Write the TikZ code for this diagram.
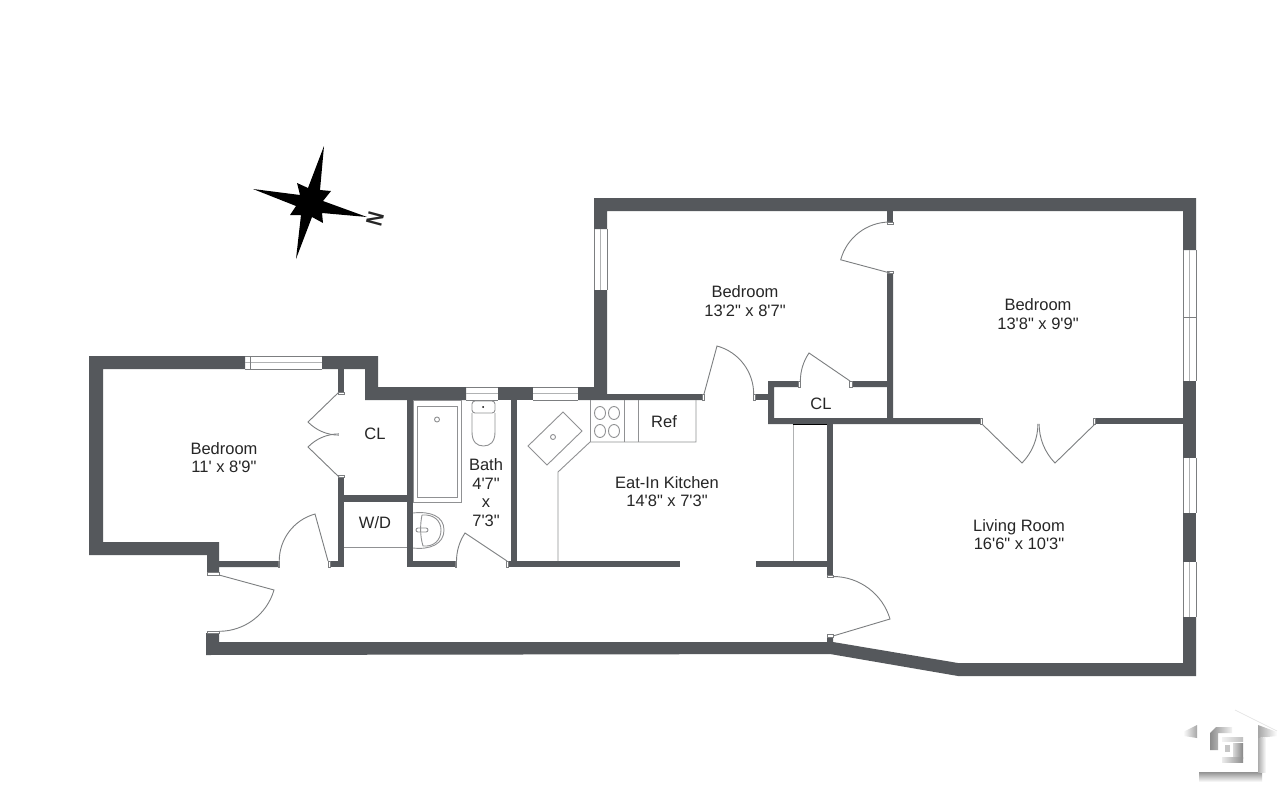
\documentclass[tikz,border=0pt]{standalone}
\usepackage{graphicx}
\usepackage{fontspec}
\newfontfamily\planfont{Liberation Sans}
\definecolor{wallgray}{HTML}{55585C}
\definecolor{thingray}{HTML}{7C7E80}
\tikzset{
    wall/.style={fill=wallgray},
    winline/.style={draw=thingray, line width=0.8pt},
    winmid/.style={draw=thingray!60, line width=0.6pt},
    jamb/.style={draw=thingray, fill=white, line width=0.5pt},
    door/.style={draw=thingray, line width=0.9pt},
    fixture/.style={draw=thingray!85, line width=0.9pt},
    label/.style={font=\planfont\fontsize{16.5}{18.7}\selectfont, align=center, text=black!85, inner sep=0pt},
}

\begin{document}
\begin{tikzpicture}[x=1pt,y=-1pt]
        \useasboundingbox (0,0) rectangle (1287,800);
        \fill[white] (0,0) rectangle (1287,800);

        % Стены снаружи
        \fill[wall] (245,356) -- (89,356) -- (89,555) -- (207,555) -- (207,572) -- (219,572) -- (219,567) -- (278,567) -- (278,561) -- (219,561) -- (219,542) -- (103,542) -- (103,369) -- (245,369) -- cycle;
        \fill[wall] (322,356) -- (378,356) -- (378,387) -- (466,387) -- (466,400) -- (365,400) -- (365,369) -- (322,369) -- cycle;
        \fill[wall] (498,387) rectangle (533,400);
        \fill[wall] (578,387) -- (594,387) -- (594,290) -- (607,290) -- (607,394) -- (702,394) -- (702,400) -- (578,400) -- cycle;
        \fill[wall] (594,229) -- (594,198) -- (1196,198) -- (1196,250) -- (1183,250) -- (1183,211) -- (607,211) -- (607,229) -- cycle;
        \fill[wall] (1183,381) rectangle (1196,458);
        \fill[wall] (1183,513) rectangle (1196,562);
        \fill[wall] (206,633) -- (219,633) -- (219,642) -- (827,642) -- (827,637) -- (833,637) -- (833,642) -- (958,663) -- (1183,663) -- (1183,617) -- (1196,617) -- (1196,676) -- (958,676) -- (830,654) -- (206,655) -- cycle;

        % Стены внутри
        \fill[wall] (338,369) rectangle (344,392);
        \fill[wall] (338,477) rectangle (344,567);
        \fill[wall] (330,561) rectangle (338,567);
        \fill[wall] (344,495) rectangle (407,502);
        \fill[wall] (407,400) rectangle (413,567);
        \fill[wall] (413,561) rectangle (455,567);
        \fill[wall] (511,400) rectangle (517,561);
        \fill[wall] (508,561) rectangle (680,567);
        \fill[wall] (755,394) rectangle (768,400);
        \fill[wall] (768,381) -- (798,381) -- (798,387) -- (774,387) -- (774,418) -- (887,418) -- (887,387) -- (852,387) -- (852,381) -- (887,381) -- (887,273) -- (893,273) -- (893,418) -- (980,418) -- (980,424) -- (768,424) -- cycle;
        \fill[wall] (887,211) rectangle (893,222);
        \fill[wall] (1095,418) rectangle (1183,424);
        \fill[wall] (827,424) rectangle (833,575);
        \fill[wall] (756,561) rectangle (827,567);

        % Окна
        \foreach \xa/\xb/\yo in {245/322/356,466/498/387,533/578/387} {
            \draw[winline] (\xa,\yo) -- (\xb,\yo);
            \draw[winline] (\xa,\yo+13) -- (\xb,\yo+13);
            \draw[winmid] (\xa,\yo+6.5) -- (\xb,\yo+6.5);
        }
        \draw[winline] (250,356) -- (250,369);
        \foreach \ya/\yb/\xo in {229/290/594,250/381/1183,458/513/1183,562/617/1183} {
            \draw[winline] (\xo,\ya) -- (\xo,\yb);
            \draw[winline] (\xo+13,\ya) -- (\xo+13,\yb);
            \draw[winmid] (\xo+6.5,\ya) -- (\xo+6.5,\yb);
        }
        \draw[winline] (1183,317) -- (1196,317);

        % Косяки дверей
        \draw[jamb] (207,572) rectangle (219,575);
        \draw[jamb] (207,631) rectangle (219,633);
        \draw[jamb] (278,561) rectangle (279.5,567);
        \draw[jamb] (328,561) rectangle (330,567);
        \draw[jamb] (338,392) rectangle (344,394);
        \draw[jamb] (338,475) rectangle (344,477);
        \draw[jamb] (455,561) rectangle (456.5,567);
        \draw[jamb] (506,561) rectangle (508,567);
        \draw[jamb] (702,394) rectangle (704,400);
        \draw[jamb] (753,394) rectangle (755,400);
        \draw[jamb] (798,381) rectangle (800,387);
        \draw[jamb] (849,381) rectangle (852,387);
        \draw[jamb] (887,222) rectangle (893,224);
        \draw[jamb] (887,271) rectangle (893,273);
        \draw[jamb] (980,418) rectangle (982,424);
        \draw[jamb] (1093,418) rectangle (1095,424);
        \draw[jamb] (827,575) rectangle (833,577);
        \draw[jamb] (827,634) rectangle (833,637);

        % Двери
        \draw[door] (219,575) -- (274,590) arc[start angle=16.2,end angle=90,radius=57.3];
        \draw[door] (328,561) -- (315,514) arc[start angle=-105.5,end angle=-180,radius=48.8];
        \draw[door] (833,636) -- (890,619) arc[start angle=-16.6,end angle=-90,radius=59.5];
        \draw[door] (704,394) -- (717,346) arc[start angle=-74.8,end angle=0,radius=49.7];
        \draw[door] (850,381) -- (809,353) arc[start angle=-145.7,end angle=-180,radius=49.6];
        \draw[door] (890,273) -- (840.7,259.8) arc[start angle=-165,end angle=-90,radius=51];
        \draw[door] (507,561) -- (465,533) arc[start angle=-146.3,end angle=-180,radius=50.5];
        \draw[door] (982,424) -- (1022,463) arc[start angle=44.3,end angle=0,radius=55.9];
        \draw[door] (1095,424) -- (1055,463) arc[start angle=135.7,end angle=180,radius=55.9];
        \draw[door] (339,392) -- (308,422) arc[start angle=135.9,end angle=90,radius=43.1];
        \draw[door] (339,477) -- (308,447) arc[start angle=-135.9,end angle=-90,radius=43.1];

        % Ванная
        \draw[fixture] (413,400) rectangle (461,502);
        \draw[fixture] (417,406) rectangle (457,497);
        \draw[fixture] (437,419.5) circle (2.5);
        \draw[fixture] (344,547) -- (407,547);
        \draw[fixture,rounded corners=3pt] (472,401) rectangle (495,413);
        \fill[black] (483,407) circle (1);
        \draw[fixture] (472,413) -- (472,432) .. controls (472,442) and (477,446) .. (483.5,446) .. controls (490,446) and (495,442) .. (495,432) -- (495,413);
        \draw[fixture] (413,513) .. controls (430,511) and (444,516) .. (444,530) .. controls (444,544) and (430,550) .. (413,548);
        \draw[fixture] (422,515) .. controls (434,514) and (441,521) .. (441,530) .. controls (441,540) and (434,547) .. (423,546) .. controls (420,536) and (420,525) .. (422,515);
        \draw[fixture,rounded corners=2pt] (416,528) rectangle (428,532);

        % Кухня
        \draw[fixture] (558,561) -- (558,472) -- (590,442) -- (696,442) -- (696,400);
        \draw[fixture] (590,400) -- (590,442);
        \draw[fixture] (624,400) -- (624,442);
        \draw[fixture] (638,400) -- (638,442);
        \foreach \x in {600,614} \foreach \y in {413,431} \draw[fixture] (\x,\y) ellipse (5.5 and 6.5);
        \draw[fixture] (563,412) -- (582,431) -- (547,465) -- (528,446) -- cycle;
        \draw[fixture] (553,437) circle (2.5);

        % Шкаф у стены
        \draw[draw=thingray!60, line width=0.9pt] (793,425) -- (793,561);
        \draw[black, line width=1.2pt] (793,424.5) -- (827,424.5);

        % Подписи
        \node[label] (bedroomwest) at (224,457.5) {Bedroom\\11' x 8'9"};
        \node[label] (closetwest)  at (375,434)   {CL};
        \node[label] (washer)      at (375,523)   {W/D};
        \node[label] (bath)        at (486,492.5) {Bath\\4'7"\\x\\7'3"};
        \node[label] (kitchen)     at (667,491.5) {Eat-In Kitchen\\14'8" x 7'3"};
        \node[label] (fridge)      at (664,422)   {Ref};
        \node[label] (bedroommid)  at (745,301)   {Bedroom\\13'2" x 8'7"};
        \node[label] (bedroomeast) at (1038,314)  {Bedroom\\13'8" x 9'9"};
        \node[label] (closeteast)  at (821,404)   {CL};
        \node[label] (living)      at (1019,534.5) {Living Room\\16'6" x 10'3"};

        % Компас
        \fill[black] (324,146) -- (320,190) -- (331,191) -- (323,201) -- (367,217) -- (322,213) -- (323,223) -- (312,217) -- (296,259) -- (301,215) -- (290,215) -- (296,206) -- (253,189) -- (300,195) -- (297,183) -- (308,188) -- cycle;
        \node[font=\planfont\bfseries\fontsize{23}{23}\selectfont, rotate=-105, text=black!85, inner sep=0pt] (north) at (375,219) {\scalebox{0.8}[1]{N}};

        % Логотип
        \shade[top color=gray!85, bottom color=white] (1199,772) rectangle (1262,782);
        \shade[left color=gray!65, right color=white] (1258,738) rectangle (1266,772);
        \shade[left color=white, right color=gray!70] (1183,732) -- (1197,725) -- (1197,738) -- (1184,736) -- cycle;
        \shade[left color=gray!70, right color=white] (1258,725) -- (1277,732) -- (1277,736) -- (1258,738) -- cycle;
        \draw[gray!25, line width=0.6pt] (1235,710) -- (1277,731);
        \shade[left color=gray!90, right color=gray!10] (1232,727) -- (1216,727) -- (1210,733) -- (1210,750) -- (1218,750) -- (1218,733) -- (1232,733) -- cycle;
        \shade[left color=gray!10, right color=gray!50] (1222,737) rectangle (1243,741);
        \fill[gray!45] (1225,745) rectangle (1230,752);
        \shade[left color=gray!30, right color=gray!95] (1233,743) rectangle (1243,758);
        \shade[left color=gray!15, right color=gray!90] (1222,757) rectangle (1243,762);
    \end{tikzpicture}
\end{document}
